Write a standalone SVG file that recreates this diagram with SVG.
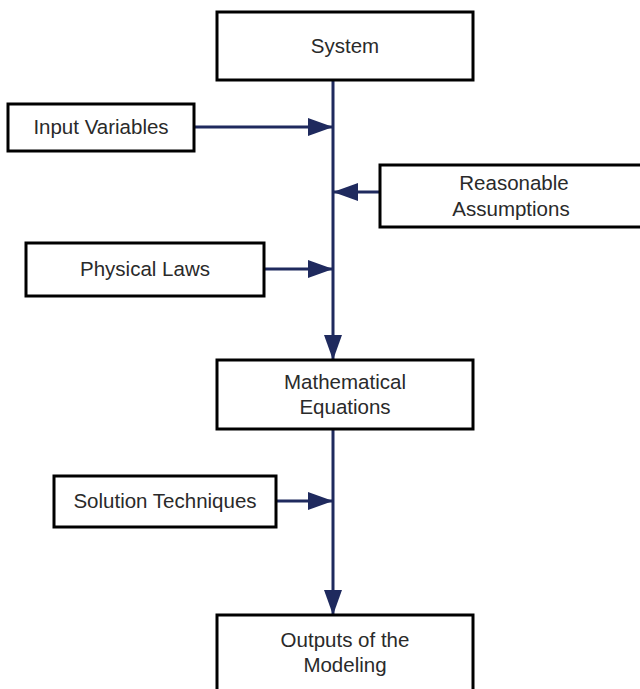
<svg xmlns="http://www.w3.org/2000/svg" width="640" height="689" viewBox="0 0 640 689">
<style>
.box{fill:#fff;stroke:#000;stroke-width:3}
.lbl{font-family:"Liberation Sans",Arial,sans-serif;font-size:20.5px;fill:#2a2a2a;text-anchor:middle}
.con{stroke:#1f2a5e;stroke-width:3;fill:none}
</style>
<defs>
<marker id="ah" markerUnits="userSpaceOnUse" markerWidth="26" markerHeight="20" refX="25" refY="10" orient="auto">
<path d="M0,1 L25,10 L0,19 Z" fill="#1f2a5e"/>
</marker>
</defs>
<rect width="640" height="689" fill="#fff"/>
<g id="connectors">
<line class="con" x1="333" y1="80" x2="333" y2="360" marker-end="url(#ah)"/>
<line class="con" x1="194" y1="127" x2="333" y2="127" marker-end="url(#ah)"/>
<line class="con" x1="380" y1="192" x2="333" y2="192" marker-end="url(#ah)"/>
<line class="con" x1="264" y1="269" x2="333" y2="269" marker-end="url(#ah)"/>
<line class="con" x1="333" y1="429" x2="333" y2="615" marker-end="url(#ah)"/>
<line class="con" x1="276" y1="501" x2="333" y2="501" marker-end="url(#ah)"/>
</g>
<g id="system"><rect class="box" x="217" y="12" width="256" height="68"/><text class="lbl" x="345" y="53">System</text></g>
<g id="input"><rect class="box" x="8" y="104" width="186" height="47"/><text class="lbl" x="101" y="134">Input Variables</text></g>
<g id="assumptions"><rect class="box" x="380" y="165" width="262" height="62"/><text class="lbl" x="514" y="190">Reasonable</text><text class="lbl" x="511" y="216">Assumptions</text></g>
<g id="laws"><rect class="box" x="26" y="243" width="238" height="53"/><text class="lbl" x="145" y="276">Physical Laws</text></g>
<g id="equations"><rect class="box" x="217" y="360" width="256" height="69"/><text class="lbl" x="345" y="389">Mathematical</text><text class="lbl" x="345" y="414">Equations</text></g>
<g id="techniques"><rect class="box" x="54" y="476" width="222" height="51"/><text class="lbl" x="165" y="508">Solution Techniques</text></g>
<g id="outputs"><rect class="box" x="217" y="615" width="256" height="80"/><text class="lbl" x="345" y="647">Outputs of the</text><text class="lbl" x="345" y="672">Modeling</text></g>
</svg>
